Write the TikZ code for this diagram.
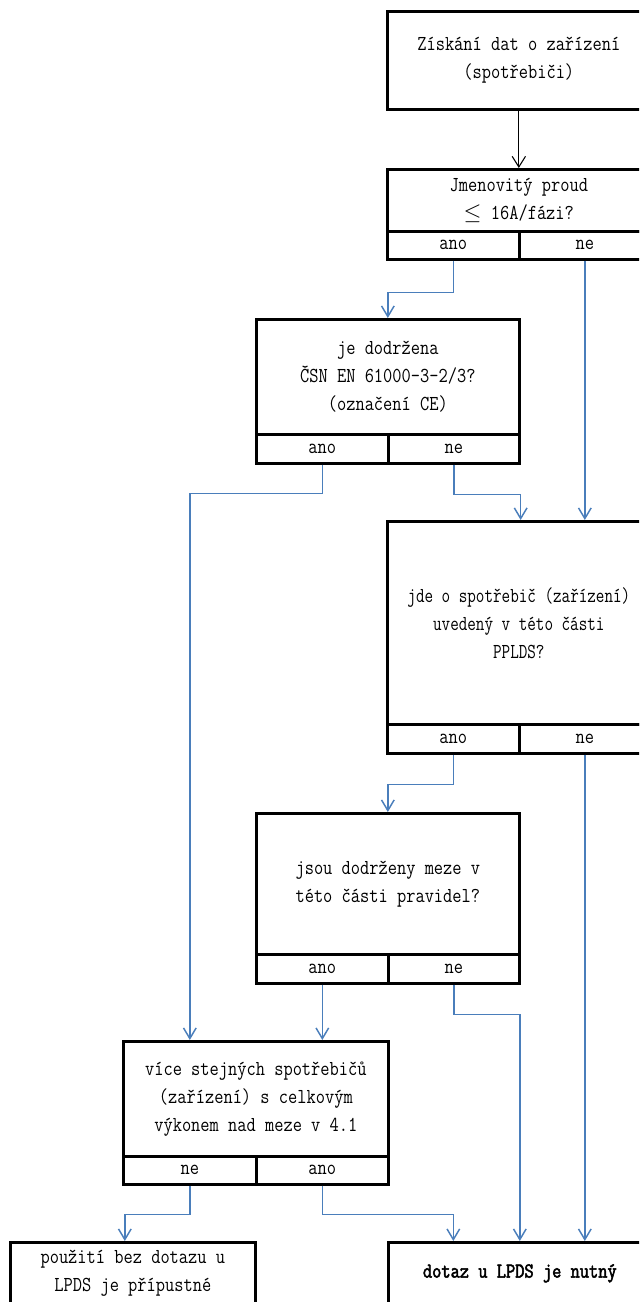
\documentclass[tikz,border=0pt]{standalone}
\usepackage{fontspec}
\usepackage{tikz}
\usetikzlibrary{arrows.meta}
\newfontfamily\boxfont[FakeStretch=0.84, BoldFont=Latin Modern Mono, BoldFeatures={FakeBold=2.5}]{Latin Modern Mono}
\newfontfamily\narrowfont[FakeStretch=0.78]{Latin Modern Mono}
\definecolor{flowblue}{RGB}{74,126,187}
\newcommand{\pxu}{0.75pt}
\tikzset{
  qbox/.style={draw, line width=2pt, inner sep=0.75pt, align=center, anchor=north west,
    font={\boxfont\fontsize{16pt}{21pt}\selectfont}},
  boxsize/.style 2 args={minimum width=#1*\pxu, minimum height=#2*\pxu},
  flow/.style={draw=flowblue, line width=1.1pt, -{Straight Barb[length=8pt,width=9.5pt]}},
  firstflow/.style={draw=black, line width=0.8pt, -{Straight Barb[length=8pt,width=10pt]}},
}

\begin{document}
\begin{tikzpicture}[x=0.75pt,y=0.75pt,yscale=-1,xscale=1]
        \useasboundingbox (0,0) rectangle (639,1302);
        \clip (0,0) rectangle (639,1302);

        % Box: ziskani dat
        \node (zdroj) at (386,10) [qbox, boxsize={263}{98}] {Získání dat o zařízení\\(spotřebiči)};

        % Box: jmenovity proud
        \node (proud) at (386,168) [qbox, boxsize={263}{62}] {Jmenovitý proud\\$\leq$ 16A/fázi?};
        \node (proudano) at (386,230) [qbox, boxsize={132}{28}] {ano};
        \node (proudne) at (518,230) [qbox, boxsize={131}{28}] {ne};

        % Box: norma
        \node (norma) at (255,318) [qbox, boxsize={263}{115}] {je dodržena\\ČSN EN 61000-3-2/3?\\(označení CE)};
        \node (normaano) at (255,433) [qbox, boxsize={132}{29}] {ano};
        \node (normane) at (387,433) [qbox, boxsize={131}{29}] {ne};

        % Box: spotrebic v teto casti
        \node (seznam) at (386,520) [qbox, boxsize={263}{203}, font={\narrowfont\fontsize{16pt}{21pt}\selectfont}] {jde o spotřebič (zařízení)\\uvedený v této části\\PPLDS?};
        \node (seznamano) at (386,723) [qbox, boxsize={132}{29}] {ano};
        \node (seznamne) at (518,723) [qbox, boxsize={131}{29}] {ne};

        % Box: meze
        \node (meze) at (255,812) [qbox, boxsize={263}{141}] {jsou dodrženy meze v\\této části pravidel?};
        \node (mezeano) at (255,953) [qbox, boxsize={132}{29}] {ano};
        \node (mezene) at (387,953) [qbox, boxsize={131}{29}] {ne};

        % Box: vice spotrebicu
        \node (vice) at (122,1040) [qbox, boxsize={265}{115}] {více stejných spotřebičů\\(zařízení) s celkovým\\výkonem nad meze v 4.1};
        \node (vicene) at (122,1155) [qbox, boxsize={133}{28}] {ne};
        \node (viceano) at (255,1155) [qbox, boxsize={132}{28}] {ano};

        % Box: vysledky
        \node (bez) at (9,1241) [qbox, boxsize={245}{62}] {použití bez dotazu u\\LPDS je přípustné};
        \node (dotaz) at (387,1241) [qbox, boxsize={263}{62}] {\bfseries dotaz u LPDS je nutný};

        % Connectors
        \draw [firstflow] (zdroj.south) -- (proud.north);
        \draw [flow] (proudano.south) -- ++(0,32) -| (norma.north);
        \draw [flow] (proudne.south) -- (proudne.south |- seznam.north);
        \draw [flow] (normaano.south) -- ++(0,29) -| (vicene.north |- vice.north);
        \draw [flow] (normane.south) -- ++(0,30) -| (seznamano.north east |- seznam.north);
        \draw [flow] (seznamano.south) -- ++(0,30) -| (meze.north);
        \draw [flow] (seznamne.south) -- (seznamne.south |- dotaz.north);
        \draw [flow] (mezeano.south) -- (mezeano.south |- vice.north);
        \draw [flow] (mezene.south) -- ++(0,30) -| (dotaz.north);
        \draw [flow] (vicene.south) -- ++(0,29) -| ([xshift=-6pt]bez.north);
        \draw [flow] (viceano.south) -- ++(0,29) -| (seznamano.south |- dotaz.north);

\end{tikzpicture}
\end{document}
